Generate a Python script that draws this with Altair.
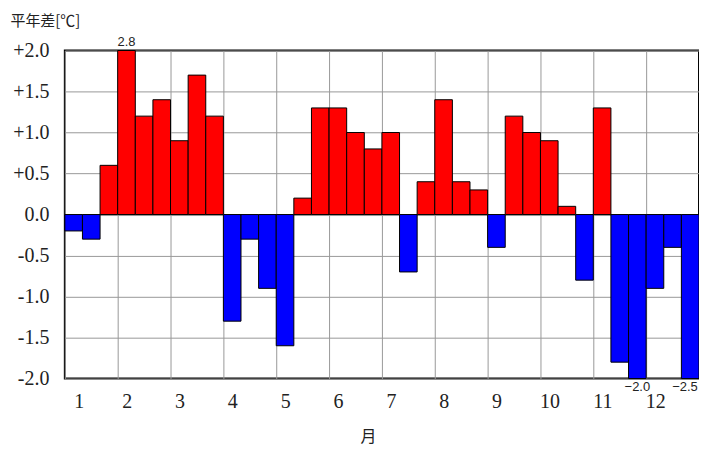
import altair as alt
import pandas as pd

months = list(range(1, 13))
decades = ["上旬", "中旬", "下旬"]
anomaly = [-0.2, -0.3, 0.6,
           2.8, 1.2, 1.4,
           0.9, 1.7, 1.2,
           -1.3, -0.3, -0.9,
           -1.6, 0.2, 1.3,
           1.3, 1.0, 0.8,
           1.0, -0.7, 0.4,
           1.4, 0.4, 0.3,
           -0.4, 1.2, 1.0,
           0.9, 0.1, -0.8,
           1.3, -1.8, -2.0,
           -0.9, -0.4, -2.5]
y_ticks = [-2.0, -1.5, -1.0, -0.5, 0.0, 0.5, 1.0, 1.5, 2.0]
x_ticks = list(range(0, 37, 3))

df = pd.DataFrame({
    "month": [m for m in months for _ in decades],
    "decade": decades * 12,
    "value": anomaly,
})
df["idx"] = range(len(df))

base = alt.Chart(df).transform_calculate(
    x0="datum.idx",
    x1="datum.idx + 1",
    xc="min(datum.idx + 0.5, 35.2)",
    yc="clamp(datum.value, -2, 2)",
)

xscale = alt.Scale(domain=[0, 36], nice=False, zero=False)
yscale = alt.Scale(domain=[-2, 2], nice=False)

xaxis = alt.Axis(
    values=x_ticks, grid=True, ticks=False, domain=False,
    labelExpr="datum.value < 36 ? toString(datum.value / 3 + 1) : ''",
    labelOffset=9, labelPadding=13,
    title="月",
    titleX=304, titleY=58, titleBaseline="middle", titleAlign="center",
)
yaxis = alt.Axis(
    values=y_ticks, grid=True, ticks=False, domain=False,
    labelExpr="datum.value > 0 ? '+' + format(datum.value, '.1f') : (datum.value < 0 ? '-' + format(-datum.value, '.1f') : '0.0')",
    labelPadding=16,
    title="平年差[℃]", titleAngle=0,
    titleX=-55, titleY=-30, titleAlign="left", titleBaseline="middle",
)

bars = base.mark_bar(stroke="black", strokeWidth=1).encode(
    x=alt.X("x0:Q", scale=xscale, axis=xaxis),
    x2="x1:Q",
    y=alt.Y("yc:Q", scale=yscale, axis=yaxis),
    y2=alt.datum(0),
    color=alt.condition(alt.datum.value >= 0, alt.value("#FF0000"), alt.value("#0000FF")),
)

top_labels = base.transform_filter("datum.value >= 2").mark_text(
    font="Liberation Sans", fontSize=13, baseline="bottom", dy=-2, color="#222222"
).encode(
    x=alt.X("xc:Q", scale=xscale, axis=xaxis),
    y=alt.Y("yc:Q", scale=yscale, axis=yaxis),
    text=alt.Text("value:Q", format=".1f"),
)
bottom_labels = base.transform_filter("datum.value <= -2").mark_text(
    font="Liberation Sans", fontSize=13, baseline="top", dy=2, color="#222222"
).encode(
    x=alt.X("xc:Q", scale=xscale, axis=xaxis),
    y=alt.Y("yc:Q", scale=yscale, axis=yaxis),
    text=alt.Text("value:Q", format=".1f"),
)

chart = alt.layer(bars, top_labels, bottom_labels).properties(
    width=636, height=329, autosize="none",
    padding={"left": 57, "top": 42, "right": 0, "bottom": 70},
).configure_view(
    stroke="black", strokeWidth=2
).configure_axis(
    gridColor="#999999", gridWidth=1, gridOpacity=1,
    labelFont="Liberation Serif", labelFontSize=20, labelColor="#222222",
    titleFont="Noto Sans CJK JP", titleFontWeight="normal", titleColor="#222222",
).configure_axisX(
    titleFontSize=16,
).configure_axisY(
    titleFontSize=15,
)

chart.save("out.html", embed_options={"renderer": "svg", "actions": False})
